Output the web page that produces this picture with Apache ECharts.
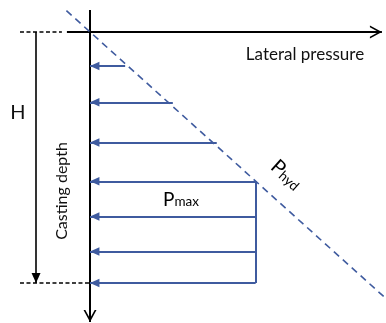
<!DOCTYPE html>
<html>
<head>
<meta charset="utf-8">
<script src="https://cdn.jsdelivr.net/npm/echarts@6/dist/echarts.min.js"></script>
<style>
html,body{margin:0;padding:0;background:#fff;}
#chart{width:386px;height:323px;}
</style>
</head>
<body>
<div id="chart"></div>
<script>
// ---- data (pressure units horizontally, depth units vertically; H = 10) ----
const castingDepthH = 10;
const arrowDepths = [1.35, 2.8, 4.4, 5.95, 7.35, 8.75, 10];
const arrowPressures = [1.4, 3.3, 5.05, 6.6, 6.6, 6.6, 6.6];
const pMax = 6.6;
const pMaxStartDepth = 5.95;
const hydDepths = [-0.85, 10.6];
const hydPressures = [-0.94, 11.77];
const wallDepthRange = [-0.88, 11.55];
const pressureAxisRange = [-0.92, 11.63];
const hMarkerPressure = -2.15;
const guidePressureStart = -2.79;
const topGuideEnd = -1.12;
const labels = {
  lateral: 'Lateral pressure',
  h: 'H',
  casting: 'Casting depth',
  pmax: ['P', 'max'],
  phyd: ['P', 'hyd']
};

const BLUE = '#3f5b9f';
const BLACK = '#000000';
const FONT = 'Lato, "Open Sans", sans-serif';
const chevron = 'path://M0,10 L5,0 L10,10 L8.6,10 L5,2.8 L1.4,10 Z';

const chart = echarts.init(document.getElementById('chart'), null, {renderer: 'canvas'});

function seg(from, to, end) {
  const a = {coord: from, symbol: 'none'};
  const b = Object.assign({coord: to, symbol: 'none'}, end || {});
  return [a, b];
}

function ml(lines, color, lineStyle) {
  return {
    type: 'line', data: [], clip: false, silent: true, animation: false, color: color,
    markLine: {
      silent: true, animation: false,
      symbol: 'none',
      label: {show: false},
      emphasis: {disabled: true},
      itemStyle: {color: color},
      lineStyle: Object.assign({color: color}, lineStyle),
      data: lines
    }
  };
}

const openHead = {symbol: chevron, symbolSize: [13, 12], symbolOffset: [0, 6]};
const blackHead = {symbol: 'triangle', symbolSize: [9, 10], symbolOffset: [0, 5]};
const blueHead = {symbol: 'triangle', symbolSize: [8.5, 9.5], symbolOffset: [0, 4.7]};

const axisLines = [
  seg([pressureAxisRange[0], 0], [pressureAxisRange[1], 0], openHead),
  seg([0, wallDepthRange[0]], [0, wallDepthRange[1]], openHead)
];
const hLines = [seg([hMarkerPressure, 0], [hMarkerPressure, castingDepthH], blackHead)];
const guideLines = [
  seg([guidePressureStart, 0], [topGuideEnd, 0]),
  seg([guidePressureStart, castingDepthH], [0, castingDepthH])
];
const pressureLines = arrowDepths.map((d, i) => seg([arrowPressures[i], d], [0, d], blueHead));
const pmaxLine = [seg([pMax, pMaxStartDepth], [pMax, castingDepthH])];
const hydLine = [seg([hydPressures[0], hydDepths[0]], [hydPressures[1], hydDepths[1]])];

const option = {
  backgroundColor: '#fff',
  animation: false,
  grid: {left: 0, right: 0, top: 0, bottom: 0, outerBoundsMode: 'none'},
  xAxis: {type: 'value', min: -3.586, max: 11.793, show: false},
  yAxis: {type: 'value', min: -1.275, max: 11.594, inverse: true, show: false},
  series: [
    ml(axisLines, BLACK, {width: 2, type: 'solid'}),
    ml(hLines, BLACK, {width: 1.6, type: 'solid'}),
    ml(guideLines, BLACK, {width: 1.5, type: [4, 2.5]}),
    ml(pressureLines, BLUE, {width: 1.8, type: 'solid'}),
    ml(pmaxLine, BLUE, {width: 2, type: 'solid'}),
    ml(hydLine, BLUE, {width: 1.6, type: [7, 5]})
  ],
  graphic: [
    {type: 'text', x: 305, y: 55, silent: true,
      style: {text: labels.lateral, fill: '#111', font: '17px ' + FONT, align: 'center', verticalAlign: 'middle'}},
    {type: 'text', x: 18, y: 113, silent: true,
      style: {text: labels.h, fill: '#111', font: '20px ' + FONT, align: 'center', verticalAlign: 'middle'}},
    {type: 'text', x: 62, y: 191, rotation: Math.PI / 2, silent: true,
      style: {text: labels.casting, fill: '#111', font: '16px ' + FONT, align: 'center', verticalAlign: 'middle'}},
    {type: 'text', x: 181, y: 198, silent: true,
      style: {text: '{a|' + labels.pmax[0] + '}{b|' + labels.pmax[1] + '}', align: 'center', verticalAlign: 'middle',
        rich: {
          a: {fontSize: 19, fontFamily: FONT, color: BLUE, lineHeight: 22, verticalAlign: 'bottom'},
          b: {fontSize: 13.5, fontFamily: FONT, color: BLUE, lineHeight: 12, verticalAlign: 'bottom'}
        }}},
    {type: 'text', x: 287, y: 174, rotation: -42 * Math.PI / 180, silent: true,
      style: {text: '{a|' + labels.phyd[0] + '}{b|' + labels.phyd[1] + '}', align: 'center', verticalAlign: 'middle',
        rich: {
          a: {fontSize: 20, fontFamily: FONT, color: BLUE, lineHeight: 22, verticalAlign: 'bottom'},
          b: {fontSize: 13.5, fontFamily: FONT, color: BLUE, lineHeight: 12, verticalAlign: 'bottom'}
        }}}
  ]
};
chart.setOption(option);
</script>
</body>
</html>
